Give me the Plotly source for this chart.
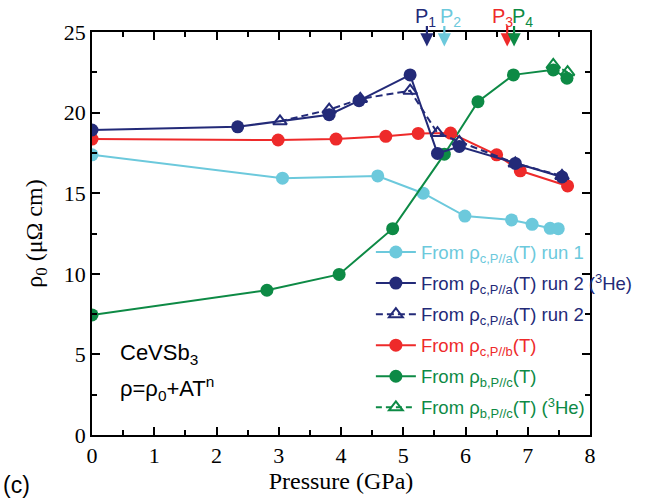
import plotly.graph_objects as go

# ---- data ----
p_run1 = [0.0, 3.06, 4.59, 5.32, 5.99, 6.74, 7.07, 7.36, 7.49]
r_run1 = [17.38, 15.93, 16.07, 15.0, 13.58, 13.34, 13.07, 12.82, 12.8]

p_run2he = [0.0, 2.34, 3.81, 4.29, 5.11, 5.55, 5.9, 6.8, 7.55]
r_run2he = [18.92, 19.12, 19.87, 20.74, 22.34, 17.47, 17.9, 16.85, 16.01]

p_run2 = [3.02, 3.81, 4.31, 5.11, 5.55, 5.9, 6.8, 7.55]
r_run2 = [19.46, 20.18, 20.85, 21.36, 18.73, 18.19, 16.85, 16.07]

p_pb = [0.0, 2.99, 3.92, 4.72, 5.24, 5.76, 6.5, 6.88, 7.64]
r_pb = [18.36, 18.3, 18.36, 18.53, 18.71, 18.73, 17.38, 16.39, 15.45]

p_pc = [0.0, 2.81, 3.97, 4.83, 5.66, 6.2, 6.77, 7.41, 7.63]
r_pc = [7.45, 8.98, 9.96, 12.8, 17.42, 20.68, 22.34, 22.65, 22.13]

p_pche = [7.41, 7.64]
r_pche = [22.96, 22.51]

p_marks = [5.38, 5.66, 6.67, 6.78]
p_labels = ["P<sub>1</sub>", "P<sub>2</sub>", "P<sub>3</sub>", "P<sub>4</sub>"]

LB = "#6cc9dc"
NV = "#232a78"
RD = "#ee2a2a"
GR = "#0d8a45"

def nm(color, txt):
    return '<span style="color:%s">%s</span>' % (color, txt)

fig = go.Figure()

# drawing order (legend order set via legendrank)
fig.add_trace(go.Scatter(x=p_run1, y=r_run1, mode="lines+markers",
    line=dict(color=LB, width=2), marker=dict(color=LB, size=13, symbol="circle"),
    name=nm(LB, "From ρ<sub>c,P//a</sub>(T) run 1"), legendrank=1, legendgroup="g1"))
fig.add_trace(go.Scatter(x=p_pc, y=r_pc, mode="lines+markers",
    line=dict(color=GR, width=2), marker=dict(color=GR, size=13, symbol="circle"),
    name=nm(GR, "From ρ<sub>b,P//c</sub>(T)"), legendrank=5, legendgroup="g5"))
fig.add_trace(go.Scatter(x=p_pche, y=r_pche, mode="lines+markers",
    line=dict(color=GR, width=2, dash="6px,4px"),
    marker=dict(color=GR, size=12, symbol="triangle-up-open", line=dict(color=GR, width=2)),
    name=nm(GR, "From ρ<sub>b,P//c</sub>(T) (<sup>3</sup>He)"), legendrank=6, legendgroup="g6"))
fig.add_trace(go.Scatter(x=p_pb, y=r_pb, mode="lines+markers",
    line=dict(color=RD, width=2), marker=dict(color=RD, size=13, symbol="circle"),
    name=nm(RD, "From ρ<sub>c,P//b</sub>(T)"), legendrank=4, legendgroup="g4"))
fig.add_trace(go.Scatter(x=p_run2, y=r_run2, mode="lines+markers",
    line=dict(color=NV, width=2, dash="7px,4px"),
    marker=dict(size=12, symbol="triangle-up-open", color=NV, line=dict(color=NV, width=2)),
    name=nm(NV, "From ρ<sub>c,P//a</sub>(T) run 2"), legendrank=3, legendgroup="g3"))
fig.add_trace(go.Scatter(x=p_run2he, y=r_run2he, mode="lines+markers",
    line=dict(color=NV, width=2), marker=dict(color=NV, size=13, symbol="circle"),
    name=nm(NV, "From ρ<sub>c,P//a</sub>(T) run 2 (<sup>3</sup>He)"), legendrank=2, legendgroup="g2"))

anns = []
arrow_colors = [NV, LB, RD, GR]
for p, c in zip(p_marks, arrow_colors):
    anns.append(dict(x=p, y=24.1, xref="x", yref="y", text="", showarrow=True,
                     ax=0, ay=-22, arrowcolor=c, arrowhead=2, arrowsize=1.2, arrowwidth=2.2))
label_x = [5.35, 5.76, 6.60, 6.92]
for lx, t, c in zip(label_x, p_labels, arrow_colors):
    anns.append(dict(x=lx, y=1.0, xref="x", yref="paper", text=t, showarrow=False,
                     xanchor="center", yanchor="bottom",
                     font=dict(family="Liberation Sans, Arial", size=20, color=c)))
anns.append(dict(x=0.052, y=0.20, xref="paper", yref="paper", text="CeVSb<sub>3</sub>",
                 showarrow=False, xanchor="left", yanchor="middle",
                 font=dict(family="Liberation Sans, Arial", size=22, color="black")))
anns.append(dict(x=0.052, y=0.115, xref="paper", yref="paper", text="ρ=ρ<sub>0</sub>+AT<sup>n</sup>",
                 showarrow=False, xanchor="left", yanchor="middle",
                 font=dict(family="Liberation Sans, Arial", size=22, color="black")))
anns.append(dict(x=-0.183, y=-0.125, xref="paper", yref="paper", text="(c)",
                 showarrow=False, xanchor="left", yanchor="middle",
                 font=dict(family="Liberation Sans, Arial", size=23, color="black")))

axis_common = dict(showline=True, linecolor="black", linewidth=1.5, mirror="allticks",
                   ticks="inside", ticklen=8, tickwidth=1.5, tickcolor="black",
                   showgrid=False, zeroline=False,
                   tickfont=dict(family="Liberation Serif, Times New Roman", size=22, color="black"))

fig.update_layout(
    width=653, height=498,
    margin=dict(l=92, r=63, t=32, b=63, autoexpand=False),
    plot_bgcolor="white", paper_bgcolor="white",
    showlegend=True,
    legend=dict(x=0.56, y=0.50, xanchor="left", yanchor="top",
                bgcolor="rgba(0,0,0,0)", borderwidth=0,
                font=dict(family="Liberation Sans, Arial", size=18.5, color="black"),
                itemwidth=40, tracegroupgap=4),
    annotations=anns,
    xaxis=dict(range=[0, 8], dtick=1, tick0=0,
               minor=dict(dtick=0.5, ticks="inside", ticklen=5, tickwidth=1.5, tickcolor="black"),
               title=dict(text="Pressure (GPa)", standoff=4,
                          font=dict(family="Liberation Serif, Times New Roman", size=24, color="black")),
               **axis_common),
    yaxis=dict(range=[0, 25], dtick=5, tick0=0,
               minor=dict(dtick=2.5, ticks="inside", ticklen=5, tickwidth=1.5, tickcolor="black"),
               title=dict(text="ρ<sub>0</sub> (μΩ cm)", standoff=14,
                          font=dict(family="Liberation Serif, Times New Roman", size=24, color="black")),
               **axis_common),
)

fig.write_html("out.html")
